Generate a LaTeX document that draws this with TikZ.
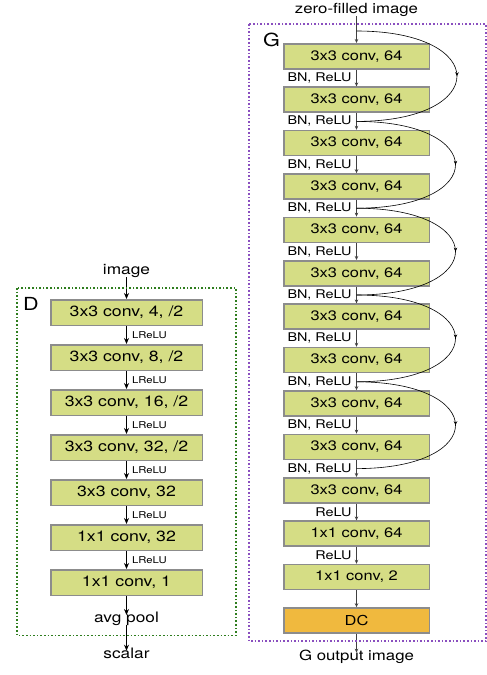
\documentclass[tikz,border=0pt]{standalone}
\usepackage{fontspec}
\setmainfont[FakeStretch=1.2]{TeX Gyre Heros}
\usepackage{xcolor}
\usepackage{tikz}
\usetikzlibrary{arrows, arrows.meta, positioning, calc, decorations.markings}
\definecolor{convfill}{HTML}{D5DD85}
\definecolor{dcfill}{HTML}{F0B93E}
\definecolor{boxline}{HTML}{8C8C8C}
\definecolor{dgreen}{HTML}{2E7D1E}
\definecolor{gpurple}{HTML}{8A4FBF}
\tikzstyle{dconv} = [rectangle, minimum width=151.5pt, minimum height=25.5pt, inner sep=0pt, text centered, draw=boxline, line width=1.5pt, fill=convfill, font=\fontsize{14.75}{16}\selectfont]
\tikzstyle{gconv} = [rectangle, minimum width=145.5pt, minimum height=25pt, inner sep=0pt, text centered, draw=boxline, line width=1.5pt, fill=convfill, font=\fontsize{13.7}{15}\selectfont]
\tikzstyle{dcbox} = [gconv, fill=dcfill]
\tikzstyle{lbl} = [inner sep=0pt, text height=0.72em, text depth=0.21em, font=\fontsize{14.4}{16}\selectfont]
\tikzstyle{title} = [inner sep=0pt, font=\fontsize{18}{20}\selectfont]
\tikzstyle{arrow} = [line width=1.3pt,-{Stealth[length=6pt,width=5pt]}]
\tikzstyle{garrow} = [line width=0.8pt,-{Stealth[length=4pt,width=3.5pt]}, draw=black!75]
\tikzstyle{act} = [font=\fontsize{9.4}{10}\selectfont, inner sep=5pt]
\tikzstyle{bnact} = [font=\fontsize{12}{13}\selectfont, inner sep=4.5pt]
\tikzstyle{skip} = [line width=0.6pt, postaction={decorate}, decoration={markings, mark=at position 0.5 with {\arrow{Stealth[length=4pt,width=3.5pt]}}}]
\tikzstyle{frame} = [dotted, line width=1.6pt]

\begin{document}
\begin{tikzpicture}[x=1pt, y=1pt]
    \useasboundingbox (0,0) rectangle (487,-675);

    % discriminator
    \node[dconv] (d1) at (126.5,-312.5) {3x3 conv, 4, /2};
    \node[dconv, below=18pt of d1] (d2) {3x3 conv, 8, /2};
    \node[dconv, below=18pt of d2] (d3) {3x3 conv, 16, /2};
    \node[dconv, below=18pt of d3] (d4) {3x3 conv, 32, /2};
    \node[dconv, below=18pt of d4] (d5) {3x3 conv, 32};
    \node[dconv, below=18pt of d5] (d6) {1x1 conv, 32};
    \node[dconv, below=18pt of d6] (d7) {1x1 conv, 1};
    \node[lbl, above=22pt of d1] (image) {image};
    \node[lbl, below=19pt of d7] (avgpool) {avg pool};
    \node[lbl, below=26pt of avgpool] (scalar) {scalar};

    \draw[arrow] (image) -- (d1);
    \draw[arrow] (d1) -- node[act, right] {LReLU} (d2);
    \draw[arrow] (d2) -- node[act, right] {LReLU} (d3);
    \draw[arrow] (d3) -- node[act, right] {LReLU} (d4);
    \draw[arrow] (d4) -- node[act, right] {LReLU} (d5);
    \draw[arrow] (d5) -- node[act, right] {LReLU} (d6);
    \draw[arrow] (d6) -- node[act, right] {LReLU} (d7);
    \draw[arrow] (d7) -- (avgpool);
    \draw[arrow] (avgpool) -- (scalar);

    \draw[frame, draw=dgreen] ($(d1.north west)+(-33,11)$) coordinate (dtl) rectangle ($(d1.east |- avgpool.south)+(33,-10.6)$);
    \node[title, below right=9pt and 6pt of dtl] (dname) {D};

    % generator
    \node[gconv] (g1) at (356.5,-56.25) {3x3 conv, 64};
    \node[gconv, below=16.9pt of g1] (g2) {3x3 conv, 64};
    \node[gconv, below=16.9pt of g2] (g3) {3x3 conv, 64};
    \node[gconv, below=16.9pt of g3] (g4) {3x3 conv, 64};
    \node[gconv, below=16.9pt of g4] (g5) {3x3 conv, 64};
    \node[gconv, below=16.9pt of g5] (g6) {3x3 conv, 64};
    \node[gconv, below=16.9pt of g6] (g7) {3x3 conv, 64};
    \node[gconv, below=16.9pt of g7] (g8) {3x3 conv, 64};
    \node[gconv, below=16.9pt of g8] (g9) {3x3 conv, 64};
    \node[gconv, below=16.9pt of g9] (g10) {3x3 conv, 64};
    \node[gconv, below=16.9pt of g10] (g11) {3x3 conv, 64};
    \node[gconv, below=16.9pt of g11] (g12) {1x1 conv, 64};
    \node[gconv, below=16.9pt of g12] (g13) {1x1 conv, 2};
    \node[dcbox, below=16.9pt of g13] (dc) {DC};
    \node[lbl, font=\fontsize{14}{16}\selectfont, above=27pt of g1] (zf) {zero-filled image};
    \node[lbl, font=\fontsize{14}{16}\selectfont, below=19pt of dc] (gout) {G output image};

    \draw[garrow] (zf) -- (g1);
    \draw[garrow] (g1) -- node[bnact, left] {BN, ReLU} (g2);
    \draw[garrow] (g2) -- node[bnact, left] {BN, ReLU} (g3);
    \draw[garrow] (g3) -- node[bnact, left] {BN, ReLU} (g4);
    \draw[garrow] (g4) -- node[bnact, left] {BN, ReLU} (g5);
    \draw[garrow] (g5) -- node[bnact, left] {BN, ReLU} (g6);
    \draw[garrow] (g6) -- node[bnact, left] {BN, ReLU} (g7);
    \draw[garrow] (g7) -- node[bnact, left] {BN, ReLU} (g8);
    \draw[garrow] (g8) -- node[bnact, left] {BN, ReLU} (g9);
    \draw[garrow] (g9) -- node[bnact, left] {BN, ReLU} (g10);
    \draw[garrow] (g10) -- node[bnact, left] {BN, ReLU} (g11);
    \draw[garrow] (g11) -- node[bnact, left] {ReLU} (g12);
    \draw[garrow] (g12) -- node[bnact, left] {ReLU} (g13);
    \draw[garrow] (g13) -- (dc);
    \draw[garrow] (dc) -- (gout);

    % skip connections
    \coordinate[above=12pt of g1] (s0);
    \coordinate[below=8.5pt of g2] (s1);
    \coordinate[below=8.5pt of g4] (s2);
    \coordinate[below=8.5pt of g6] (s3);
    \coordinate[below=8.5pt of g8] (s4);
    \coordinate[below=8.5pt of g10] (s5);
    \draw[skip] (s0) to[out=0, in=0, looseness=3.8] (s1);
    \draw[skip] (s1) to[out=0, in=0, looseness=3.9] (s2);
    \draw[skip] (s2) to[out=0, in=0, looseness=3.9] (s3);
    \draw[skip] (s3) to[out=0, in=0, looseness=3.9] (s4);
    \draw[skip] (s4) to[out=0, in=0, looseness=3.9] (s5);

    \draw[frame, draw=gpurple] ($(g1.north west)+(-34,19)$) coordinate (gtl) rectangle ($(dc.south east)+(56,-7.5)$);
    \node[title, below right=9pt and 14pt of gtl] (gname) {G};
\end{tikzpicture}
\end{document}
